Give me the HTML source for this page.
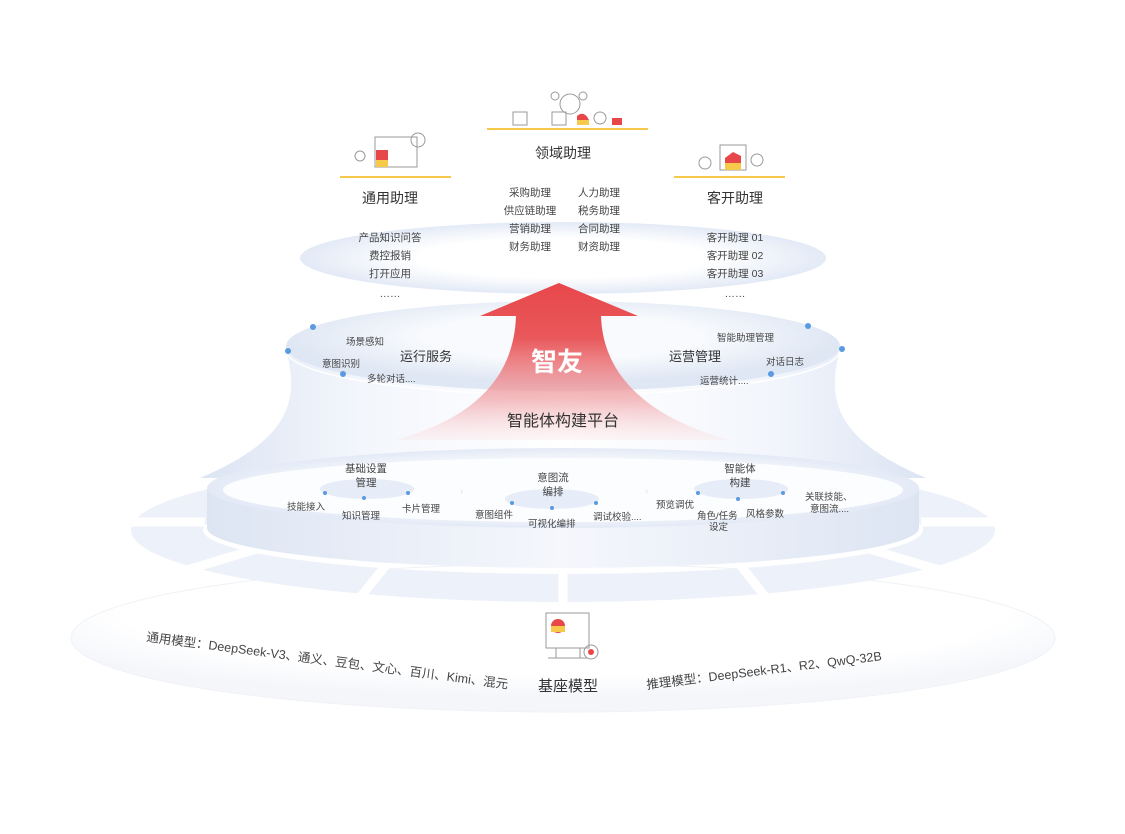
<!DOCTYPE html>
<html><head><meta charset="utf-8"><style>
html,body{margin:0;padding:0;background:#fff}
svg{display:block}
text{font-family:"Liberation Sans","Noto Sans CJK SC",sans-serif;fill:#333}
.s{font-size:10.5px;fill:#444}
.xs{font-size:9.5px;fill:#444}
.h{font-size:14px;fill:#333}
</style></head><body>
<svg width="1125" height="834" viewBox="0 0 1125 834" xmlns="http://www.w3.org/2000/svg">
<defs>
<radialGradient id="eg" cx="50%" cy="50%" r="50%">
<stop offset="0.55" stop-color="#ffffff"/><stop offset="1" stop-color="#e3eaf6"/></radialGradient>
<radialGradient id="eg2" cx="50%" cy="40%" r="50%">
<stop offset="0.5" stop-color="#f8fafd"/><stop offset="1" stop-color="#dfe7f4"/></radialGradient>
<linearGradient id="cone" x1="0" x2="1" y1="0" y2="0">
<stop offset="0" stop-color="#dce4f3"/><stop offset="0.22" stop-color="#f3f6fc"/><stop offset="0.5" stop-color="#ffffff"/><stop offset="0.78" stop-color="#f3f6fc"/><stop offset="1" stop-color="#dce4f3"/></linearGradient>
<linearGradient id="arrow" x1="0" x2="0" y1="0" y2="1">
<stop offset="0" stop-color="#e8474a"/><stop offset="0.35" stop-color="#e9585b"/><stop offset="0.75" stop-color="#f0a4a8" stop-opacity="0.7"/><stop offset="1" stop-color="#fbe3e5" stop-opacity="0.3"/></linearGradient>
<linearGradient id="side" x1="0" x2="1">
<stop offset="0" stop-color="#dde5f3"/><stop offset="0.5" stop-color="#f5f7fc"/><stop offset="1" stop-color="#dde5f3"/></linearGradient>
<radialGradient id="base" cx="50%" cy="30%" r="60%">
<stop offset="0.75" stop-color="#ffffff"/><stop offset="1" stop-color="#f4f6fa"/></radialGradient>
</defs>

<!-- base ellipse -->
<ellipse cx="563" cy="638" rx="492" ry="74" fill="url(#base)" stroke="#f0f2f7" stroke-width="1"/>

<!-- outer ring segments -->
<path d="M131,530 A432,72 0 0 0 995,530 A432,72 0 0 0 131,530 Z M203,530 A360,44 0 0 0 923,530 A360,44 0 0 0 203,530 Z" fill="#edf1f9" fill-rule="evenodd"/>
<g stroke="#fff" stroke-width="9">
<line x1="563" y1="560" x2="563" y2="610"/>
<line x1="390" y1="560" x2="350" y2="610"/>
<line x1="736" y1="560" x2="776" y2="610"/>
<line x1="260" y1="548" x2="180" y2="572"/>
<line x1="866" y1="548" x2="946" y2="572"/>
<line x1="205" y1="522" x2="120" y2="522"/>
<line x1="921" y1="522" x2="1006" y2="522"/>
</g>

<!-- cone -->
<path d="M286,350 C300,400 290,440 200,478 L926,478 C836,440 826,400 840,350 Z" fill="url(#cone)"/>

<!-- lower disc cylinder -->
<path d="M207,488 L207,528 A356,40 0 0 0 919,528 L919,488 Z" fill="url(#side)"/>
<ellipse cx="563" cy="488" rx="356" ry="40" fill="url(#eg)"/>
<ellipse cx="563" cy="490" rx="340" ry="32" fill="#fcfdff"/>

<!-- top ellipse -->
<ellipse cx="563" cy="258" rx="263" ry="36" fill="url(#eg)"/>

<!-- middle ellipse -->
<ellipse cx="563" cy="346" rx="277" ry="45" fill="url(#eg2)"/>
<path d="M286,350 A277,45 0 0 0 840,350" fill="none" stroke="#fff" stroke-width="1.5"/>

<!-- arrow -->
<path d="M559,283 L638,316 L601,316 C603,380 655,420 730,440 L395,440 C470,420 514,380 516,316 L480,316 Z" fill="url(#arrow)"/>

<!-- dots -->
<g fill="#5a9ae0">
<circle cx="313" cy="327" r="3"/><circle cx="288" cy="351" r="3"/><circle cx="343" cy="374" r="3"/>
<circle cx="808" cy="326" r="3"/><circle cx="842" cy="349" r="3"/><circle cx="771" cy="374" r="3"/>
</g>

<!-- yellow lines -->
<g stroke="#f6c94a" stroke-width="2">
<line x1="340" y1="177" x2="451" y2="177"/>
<line x1="487" y1="129" x2="648" y2="129"/>
<line x1="674" y1="177" x2="785" y2="177"/>
</g>

<!-- simple icons -->
<g fill="none" stroke="#999" stroke-width="1">
<rect x="375" y="137" width="42" height="30"/>
<circle cx="418" cy="140" r="7"/>
<circle cx="360" cy="156" r="5"/>
<rect x="513" y="112" width="14" height="13"/><circle cx="570" cy="104" r="10"/>
<circle cx="555" cy="96" r="4"/><circle cx="583" cy="96" r="4"/>
<rect x="552" y="112" width="14" height="13"/><circle cx="600" cy="118" r="6"/>
<rect x="720" y="145" width="26" height="25"/><circle cx="705" cy="163" r="6"/><circle cx="757" cy="160" r="6"/>
</g>
<g>
<path d="M376,150 h12 v17 h-12 z" fill="#e8474a"/><path d="M376,160 h12 v7 h-12z" fill="#f6c94a"/>
<path d="M577,116 q7,-6 12,4 q-6,8 -12,0z" fill="#e8474a"/><path d="M577,120 h12 v5 h-12z" fill="#f6c94a"/>
<path d="M725,158 l8,-6 l8,4 v14 h-16 z" fill="#e8474a"/><path d="M725,163 h16 v7 h-16z" fill="#f6c94a"/>
<rect x="612" y="118" width="10" height="7" fill="#e8474a"/>
</g>

<!-- base icon -->
<g fill="none" stroke="#999" stroke-width="1">
<rect x="546" y="613" width="43" height="35"/><line x1="556" y1="648" x2="556" y2="658"/><line x1="580" y1="648" x2="580" y2="658"/><line x1="548" y1="658" x2="588" y2="658"/>
<circle cx="591" cy="652" r="7"/>
</g>
<circle cx="558" cy="626" r="7" fill="#e8474a"/><rect x="551" y="626" width="14" height="6" fill="#f6c94a"/>
<circle cx="591" cy="652" r="3" fill="#e8474a"/>

<!-- texts top -->
<text class="h" x="390" y="203" text-anchor="middle">通用助理</text>
<text class="h" x="563" y="158" text-anchor="middle">领域助理</text>
<text class="h" x="735" y="203" text-anchor="middle">客开助理</text>
<text class="s" x="530" y="196" text-anchor="middle">采购助理</text><text class="s" x="599" y="196" text-anchor="middle">人力助理</text>
<text class="s" x="530" y="214" text-anchor="middle">供应链助理</text><text class="s" x="599" y="214" text-anchor="middle">税务助理</text>
<text class="s" x="530" y="232" text-anchor="middle">营销助理</text><text class="s" x="599" y="232" text-anchor="middle">合同助理</text>
<text class="s" x="530" y="250" text-anchor="middle">财务助理</text><text class="s" x="599" y="250" text-anchor="middle">财资助理</text>
<text class="s" x="390" y="241" text-anchor="middle">产品知识问答</text>
<text class="s" x="390" y="259" text-anchor="middle">费控报销</text>
<text class="s" x="390" y="277" text-anchor="middle">打开应用</text>
<text class="s" x="390" y="297" text-anchor="middle">……</text>
<text class="s" x="735" y="241" text-anchor="middle">客开助理 01</text>
<text class="s" x="735" y="259" text-anchor="middle">客开助理 02</text>
<text class="s" x="735" y="277" text-anchor="middle">客开助理 03</text>
<text class="s" x="735" y="297" text-anchor="middle">……</text>

<!-- middle -->
<text class="xs" x="346" y="345">场景感知</text>
<text class="xs" x="322" y="367">意图识别</text>
<text class="xs" x="367" y="382">多轮对话....</text>
<text class="h" x="400" y="361" style="font-size:13px">运行服务</text>
<text class="xs" x="717" y="341">智能助理管理</text>
<text class="xs" x="766" y="365">对话日志</text>
<text class="xs" x="700" y="384">运营统计....</text>
<text class="h" x="669" y="361" style="font-size:13px">运营管理</text>
<text x="557" y="371" text-anchor="middle" style="font-size:26px;font-weight:bold;fill:#fff">智友</text>
<text x="563" y="426" text-anchor="middle" style="font-size:16px;fill:#333">智能体构建平台</text>

<!-- lower disc contents -->
<ellipse cx="367" cy="489" rx="47" ry="10" fill="#e6ecf8"/>
<ellipse cx="552" cy="499" rx="47" ry="10" fill="#e6ecf8"/>
<ellipse cx="741" cy="489" rx="47" ry="10" fill="#e6ecf8"/>
<g fill="#5a9ae0">
<circle cx="325" cy="493" r="2"/><circle cx="364" cy="498" r="2"/><circle cx="408" cy="493" r="2"/>
<circle cx="512" cy="503" r="2"/><circle cx="552" cy="508" r="2"/><circle cx="596" cy="503" r="2"/>
<circle cx="698" cy="493" r="2"/><circle cx="738" cy="499" r="2"/><circle cx="783" cy="493" r="2"/>
</g>
<text class="s" x="366" y="472" text-anchor="middle">基础设置</text>
<text class="s" x="366" y="486" text-anchor="middle">管理</text>
<text class="s" x="553" y="481" text-anchor="middle">意图流</text>
<text class="s" x="553" y="495" text-anchor="middle">编排</text>
<text class="s" x="740" y="472" text-anchor="middle">智能体</text>
<text class="s" x="740" y="486" text-anchor="middle">构建</text>
<text class="xs" x="287" y="510">技能接入</text>
<text class="xs" x="342" y="519">知识管理</text>
<text class="xs" x="402" y="512">卡片管理</text>
<text class="xs" x="475" y="518">意图组件</text>
<text class="xs" x="528" y="527">可视化编排</text>
<text class="xs" x="593" y="520">调试校验....</text>
<text class="xs" x="656" y="508">预览调优</text>
<text class="xs" x="697" y="519">角色/任务</text>
<text class="xs" x="709" y="530">设定</text>
<text class="xs" x="746" y="517">风格参数</text>
<text class="xs" x="805" y="500">关联技能、</text>
<text class="xs" x="810" y="512">意图流....</text>
<text x="460" y="494" style="font-size:10px;fill:#dde4f0">›</text>
<text x="645" y="494" style="font-size:10px;fill:#dde4f0">›</text>

<!-- base texts -->
<text x="568" y="691" text-anchor="middle" style="font-size:15px;fill:#333">基座模型</text>
<text transform="translate(146,641) rotate(7.5)" style="font-size:12.5px;fill:#444">通用模型：DeepSeek-V3、通义、豆包、文心、百川、Kimi、混元</text>
<text transform="translate(647,689) rotate(-7)" style="font-size:12.5px;fill:#444">推理模型：DeepSeek-R1、R2、QwQ-32B</text>
</svg>
</body></html>
